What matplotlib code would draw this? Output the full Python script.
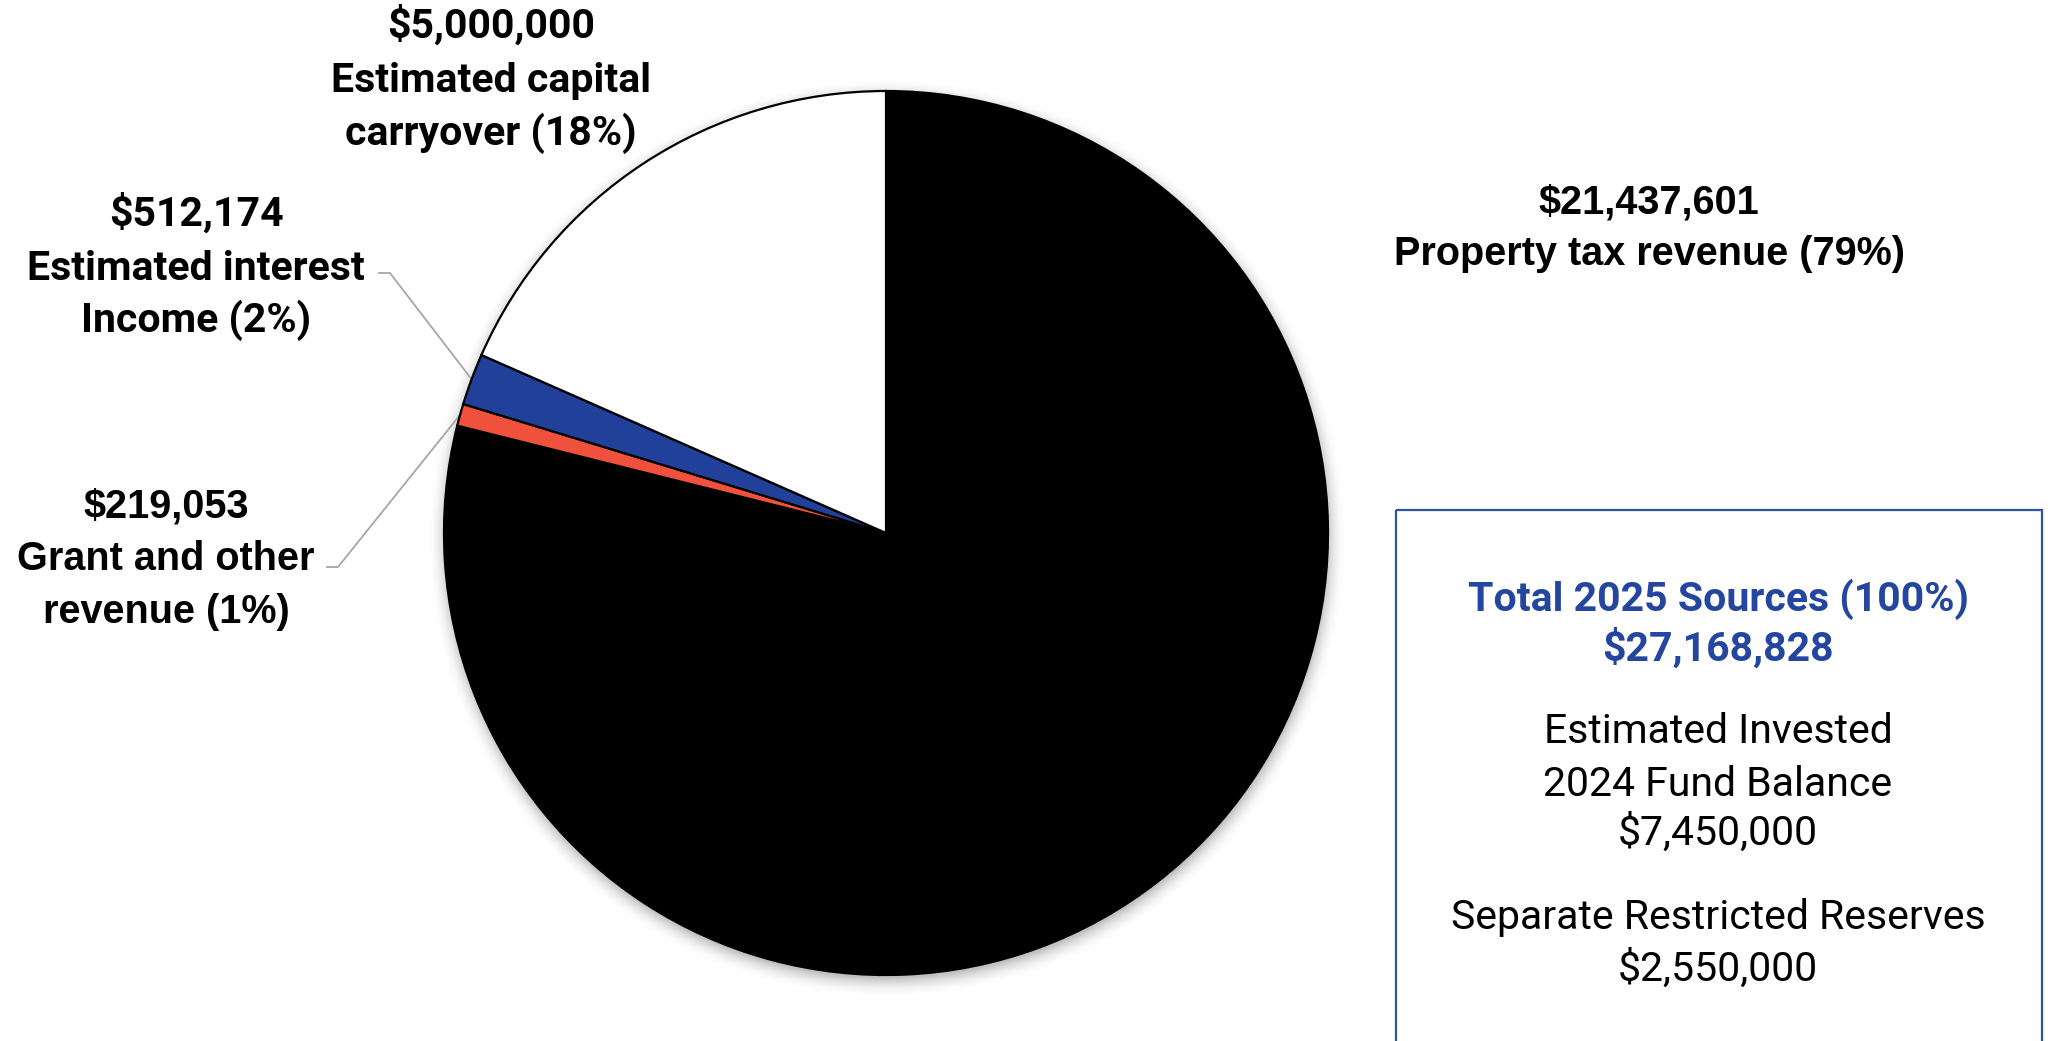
import numpy as np
import matplotlib
matplotlib.use("Agg")
import matplotlib.pyplot as plt
from matplotlib.patches import Rectangle

# 2025 sources of funds
sources = ["Property tax revenue", "Grant and other revenue",
           "Estimated interest Income", "Estimated capital carryover"]
amounts = [21437601, 219053, 512174, 5000000]
colors = ["#000000", "#F0513C", "#21409A", "#FFFFFF"]
total = 27168828
fund_balance = 7450000
restricted = 2550000

W, H = 2052, 1041
fig = plt.figure(figsize=(W / 100, H / 100), dpi=100)
ax = fig.add_axes([0, 0, 1, 1])

cx, cy, r = 886, 533, 442

# soft shadow behind the pie
pad = 45
xs = np.arange(cx - r - pad, cx + r + pad)
ys = np.arange(cy - r - pad, cy + r + pad)
gx, gy = np.meshgrid(xs, ys)
d = np.hypot(gx - (cx + 1), gy - (cy + 5))
a = np.clip(1 - (d - r + 2) / 20, 0, 1) ** 2 * 0.45
shadow = np.zeros(d.shape + (4,))
shadow[..., :3] = 0.45
shadow[..., 3] = a
ax.imshow(shadow, extent=(xs[0], xs[-1], ys[-1], ys[0]), zorder=0,
          interpolation="bilinear")

# y axis runs downwards, so angles are mirrored: start at the top, go clockwise
wedges, _ = ax.pie(amounts, colors=colors, startangle=-90, counterclock=True,
                   center=(cx, cy), radius=r, frame=True,
                   wedgeprops=dict(edgecolor="black", linewidth=1.6))
for w in wedges:
    w.set_zorder(2)
ax.set_xlim(0, W)
ax.set_ylim(H, 0)
ax.set_aspect("equal")
ax.axis("off")


def block(x, baselines, lines, **kw):
    for yb, s in zip(baselines, lines):
        ax.text(x, yb, s, ha="center", va="baseline", **kw)


aptos_b = dict(family="Roboto", fontweight="bold", fontsize=29.5, color="black")
arial_b = dict(family="Liberation Sans", fontweight="bold", fontsize=28.5,
               color="black")

pct = [a_ / total * 100 for a_ in amounts]

block(491, [38, 92, 145],
      [f"${amounts[3]:,}", "Estimated capital", f"carryover ({pct[3]:.0f}%)"],
      **aptos_b)
block(196, [226, 280, 332],
      [f"${amounts[2]:,}", "Estimated interest", f"Income ({pct[2]:.0f}%)"],
      **aptos_b)
block(166, [518, 570, 623],
      [f"${amounts[1]:,}", "Grant and other", f"revenue ({pct[1]:.0f}%)"],
      **arial_b)
block(1649, [214, 265],
      [f"${amounts[0]:,}", f"Property tax revenue ({pct[0]:.0f}%)"],
      **arial_b)


# leader lines from labels to the small wedges
def leader(w, x0, y0):
    ang = np.deg2rad((w.theta1 + w.theta2) / 2)
    ex, ey = cx + r * np.cos(ang), cy + r * np.sin(ang)
    ax.plot([x0, x0 + 11, ex], [y0, y0, ey], color="#A6A6A6", lw=1.3,
            zorder=1, solid_joinstyle="miter")


leader(wedges[2], 379, 273)
leader(wedges[1], 327, 567)

# totals box
ax.add_patch(Rectangle((1396, 510), 646, 600, fill=False,
                       edgecolor="#2F52A0", linewidth=1.6, zorder=3,
                       clip_on=False))
block(1718, [611, 661],
      [f"Total 2025 Sources ({sum(pct):.0f}%)", f"${total:,}"],
      family="Roboto", fontweight="bold", fontsize=29.5, color="#2446A0")
block(1718, [743, 796, 845],
      ["Estimated Invested", "2024 Fund Balance", f"${fund_balance:,}"],
      family="Roboto", fontsize=29.5, color="black")
block(1718, [929, 981],
      ["Separate Restricted Reserves", f"${restricted:,}"],
      family="Roboto", fontsize=29.5, color="black")

fig.savefig("out.png", dpi=100)
